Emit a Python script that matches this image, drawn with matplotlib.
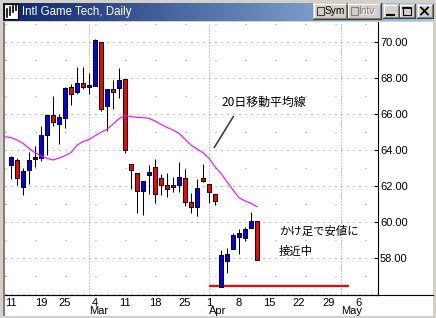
import matplotlib
matplotlib.use("Agg")
import matplotlib.pyplot as plt
import matplotlib.transforms as mtrans
from matplotlib.patches import Rectangle
import numpy as np

plt.rcParams['font.family'] = ['Liberation Sans', 'Noto Sans CJK JP', 'DejaVu Sans']

# ---------------- data ----------------
day_index = list(range(42))   # trading days from 11 Feb 2002
opens  = [63.18, 63.43, 61.92, 62.87, 63.48, 63.57, 64.83, 65.93, 65.43, 65.77,
          67.50, 67.25, 67.75, 67.53, 67.58, 70.02, 66.47, 67.38, 67.44, 67.96,
          63.20, 62.70, 61.70, 62.59, 63.04, 62.42, 62.03, 62.03, 62.03, 62.42,
          61.09, 60.82, 62.42, 62.09, 61.53, 56.37, 57.80, 58.49, 59.17, 59.08,
          59.67, 60.04]
highs  = [63.68, 63.57, 62.98, 63.91, 64.24, 65.35, 65.96, 67.00, 66.00, 67.53,
          67.65, 68.60, 68.60, 68.27, 70.17, 70.02, 67.40, 67.90, 68.55, 67.96,
          63.20, 62.70, 62.26, 63.16, 63.48, 62.66, 62.70, 62.51, 63.33, 62.92,
          61.60, 62.40, 63.22, 62.09, 61.53, 58.43, 58.52, 59.40, 59.60, 59.73,
          60.56, 60.04]
lows   = [62.37, 62.05, 61.49, 62.11, 63.07, 63.39, 63.70, 65.35, 64.32, 65.20,
          66.50, 67.14, 67.40, 67.12, 67.58, 66.17, 65.08, 66.27, 66.88, 63.82,
          61.80, 60.50, 60.40, 61.55, 61.03, 61.51, 61.40, 61.68, 61.64, 60.90,
          60.50, 60.33, 62.23, 61.03, 60.92, 56.37, 57.16, 58.49, 58.19, 58.95,
          59.67, 57.85]
closes = [63.59, 62.42, 62.83, 63.43, 63.61, 64.84, 65.96, 65.54, 65.82, 67.44,
          67.10, 67.75, 67.53, 67.60, 70.11, 66.27, 67.38, 67.21, 67.90, 64.00,
          62.87, 61.72, 62.26, 62.76, 61.53, 62.03, 61.81, 61.92, 62.48, 61.10,
          60.81, 61.87, 62.29, 61.64, 61.14, 58.13, 58.19, 59.25, 59.36, 59.62,
          60.04, 57.85]

ma_index = list(range(-1, 42))
ma_values = [64.74, 64.69, 64.56, 64.37, 64.09, 63.85, 63.67, 63.54, 63.44, 63.55,
             63.68, 63.85, 64.27, 64.47, 64.58, 64.79, 64.99, 65.15, 65.44, 65.74,
             65.93, 65.86, 65.82, 65.80, 65.76, 65.62, 65.43, 65.26, 65.11, 64.93,
             64.60, 64.28, 64.06, 63.85, 63.54, 63.07, 62.70, 62.23, 61.77, 61.34,
             61.16, 61.03, 60.84]

week_ticks  = [0, 5, 9, 14, 19, 24, 29, 33, 38, 43, 48, 53, 58]
week_labels = ['11', '19', '25', '4', '11', '18', '25', '1', '8', '15', '22', '29', '6']
month_ticks  = [13, 33, 55]
month_labels = ['Mar', 'Apr', 'May']
price_ticks = [58, 60, 62, 64, 66, 68, 70]
grid_levels = list(range(56, 72))
support_level = 56.42
support_span = [33, 56.3]

# ---------------- figure / window chrome ----------------
W, H = 436, 318
fig = plt.figure(figsize=(W / 100, H / 100), dpi=100, facecolor='#D4D0C8')
chrome = fig.add_axes([0, 0, 1, 1])
chrome.axis('off')

grad = np.linspace(0, 1, 256)
c0 = np.array([10, 36, 106]) / 255.0
c1 = np.array([166, 202, 240]) / 255.0
img = (c0[None, :] * (1 - grad[:, None]) + c1[None, :] * grad[:, None])[None, :, :]
chrome.imshow(img, extent=[3, 433, 21, 3], aspect='auto', interpolation='bilinear', zorder=1)

# icon
chrome.add_patch(Rectangle((4, 4), 14, 15, facecolor='white', edgecolor='black', lw=0.8, zorder=2))
for bx, y0, y1 in [(7, 9, 17), (10, 7, 15), (13, 6, 12), (16, 5, 10)]:
    chrome.plot([bx, bx], [y0, y1], color='black', lw=1.2, zorder=3)
chrome.text(22, 11.5, 'Intl Game Tech, Daily', color='white', fontsize=8.3,
            family='Liberation Sans', va='center', ha='left', zorder=3)


def button(x0, y0, x1, y1):
    chrome.add_patch(Rectangle((x0, y0), x1 - x0, y1 - y0, facecolor='#D4D0C8',
                               edgecolor='none', zorder=2))
    chrome.plot([x0, x1], [y0 + 0.5, y0 + 0.5], color='white', lw=0.8, zorder=3)
    chrome.plot([x0 + 0.5, x0 + 0.5], [y0, y1], color='white', lw=0.8, zorder=3)
    chrome.plot([x0, x1], [y1 - 0.5, y1 - 0.5], color='#404040', lw=0.8, zorder=3)
    chrome.plot([x1 - 0.5, x1 - 0.5], [y0, y1], color='#404040', lw=0.8, zorder=3)
    chrome.plot([x0 + 1, x1 - 1], [y1 - 1.5, y1 - 1.5], color='#808080', lw=0.8, zorder=3)
    chrome.plot([x1 - 1.5, x1 - 1.5], [y0 + 1, y1 - 1], color='#808080', lw=0.8, zorder=3)


button(313, 3, 347, 19)
chrome.add_patch(Rectangle((316.5, 7), 7.5, 7.5, facecolor='#D4D0C8', edgecolor='#404040', lw=0.8, zorder=4))
chrome.text(324.5, 11.5, 'Sym', color='black', fontsize=7.3, va='center', ha='left', zorder=4)
button(347, 3, 381, 19)
chrome.add_patch(Rectangle((350.5, 7), 7.5, 7.5, facecolor='#D4D0C8', edgecolor='#808080', lw=0.8, zorder=4))
chrome.text(359.5, 12, 'Intv', color='white', fontsize=7.3, va='center', ha='left', zorder=4)
chrome.text(358.5, 11.5, 'Intv', color='#808080', fontsize=7.3, va='center', ha='left', zorder=5)
button(383, 4, 399, 18)
chrome.plot([387, 394], [14.5, 14.5], color='black', lw=1.5, zorder=4)
button(399, 4, 415, 18)
chrome.add_patch(Rectangle((403, 7), 8, 7.5, facecolor='none', edgecolor='black', lw=0.8, zorder=4))
chrome.plot([403, 411], [7.5, 7.5], color='black', lw=1.3, zorder=4)
button(417, 4, 433, 18)
chrome.plot([421, 428], [7.5, 14.5], color='black', lw=1.3, zorder=4)
chrome.plot([421, 428], [14.5, 7.5], color='black', lw=1.3, zorder=4)

# client area
chrome.add_patch(Rectangle((5, 22), 428, 294, facecolor='white', edgecolor='none', zorder=1))
chrome.add_patch(Rectangle((3, 22), 2, 294, facecolor='#808080', edgecolor='none', zorder=1))
chrome.plot([5, 433], [295, 295], color='black', lw=0.8, zorder=2)
chrome.set_xlim(0, W)
chrome.set_ylim(H, 0)

# ---------------- chart ----------------
ax = fig.add_axes([5 / W, (H - 295) / H, 373 / W, 273 / H])
ax.set_facecolor('none')
ax.set_xlim(-1.0, 61.17)
ax.set_ylim(55.922, 71.131)
for s in ['left', 'top']:
    ax.spines[s].set_visible(False)
ax.spines['right'].set_linewidth(0.8)
ax.spines['bottom'].set_linewidth(0.8)
ax.set_xticks([])
ax.yaxis.tick_right()
ax.set_yticks(price_ticks)
ax.set_yticklabels([f'{p:.2f}' for p in price_ticks])
ax.tick_params(axis='y', direction='in', length=3, width=0.8, pad=1.5, labelsize=8)

# grid
for lv in grid_levels:
    ls = (0, (1, 5)) if lv % 2 == 0 else (0, (1, 29))
    ax.axhline(lv, color='#909090', lw=0.72, linestyle=ls, zorder=0)
for mt in month_ticks:
    ax.axvline(mt, color='#A0A0A0', lw=0.72, linestyle=(0, (1, 2)), zorder=0)

# support line
ax.hlines(support_level, support_span[0], support_span[1], color='#FF0000', lw=1.6, zorder=1)

# candles
x = np.array(day_index)
o = np.array(opens); c = np.array(closes)
ax.vlines(x, lows, highs, color='black', lw=0.75, zorder=2)
up = c >= o
colors = np.where(up, '#0000FF', '#FF0000')
bottoms = np.minimum(o, c)
heights = np.maximum(np.abs(c - o), 0.04)
ax.bar(x, heights, bottom=bottoms, width=0.68, color=colors, edgecolor='black', linewidth=0.75, zorder=3)

# moving average
ax.plot(ma_index, ma_values, color='#FF00FF', lw=0.8, zorder=4)

# annotations
cjk = ['Noto Sans CJK JP', 'DejaVu Sans']
ax.plot([33.9, 37.05], [64.15, 65.86], color='#404040', lw=1.2, zorder=5)
ax.text(35.1, 66.65, '20日移動平均線', fontsize=8.6, family=cjk, ha='left', va='center', zorder=5)
ax.text(44.67, 59.49, 'かけ足で安値に', fontsize=8.2, family=cjk, ha='left', va='center', zorder=5)
ax.text(44.67, 58.37, '接近中', fontsize=8.2, family=cjk, ha='left', va='center', zorder=5)

# x labels
trans = mtrans.blended_transform_factory(ax.transData, chrome.transData)
for wt, wl in zip(week_ticks, week_labels):
    ax.text(wt, 302.5, wl, transform=trans, fontsize=8, ha='center', va='center', clip_on=False)
for mt, ml in zip(month_ticks, month_labels):
    ax.text(mt, 311.5, ml, transform=trans, fontsize=8, ha='left', va='center', clip_on=False)

fig.savefig('out.png', dpi=100, facecolor=fig.get_facecolor())
